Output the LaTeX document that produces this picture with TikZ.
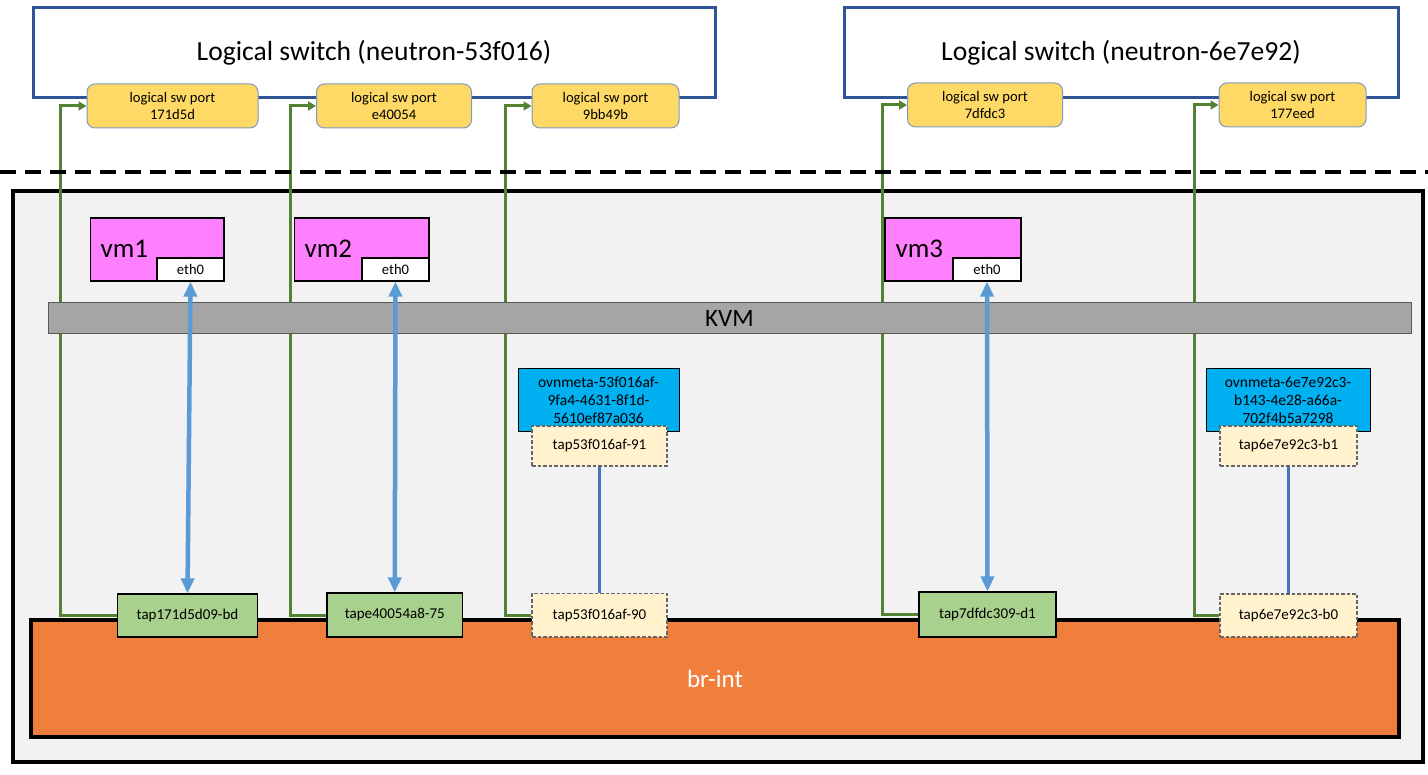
\documentclass[tikz,border=0pt]{standalone}
\usepackage{fontspec}
\setmainfont{Carlito}
\usetikzlibrary{arrows.meta}
\definecolor{lsblue}{HTML}{2F5597}
\definecolor{portfill}{HTML}{FFD966}
\definecolor{portedge}{HTML}{7F98BF}
\definecolor{vmpink}{HTML}{FF80FF}
\definecolor{kvmgray}{HTML}{A5A5A5}
\definecolor{kvmedge}{HTML}{595959}
\definecolor{metablue}{HTML}{00B0F0}
\definecolor{tapyellow}{HTML}{FFF2CC}
\definecolor{dashgray}{HTML}{666666}
\definecolor{tapgreen}{HTML}{A9D18E}
\definecolor{linkgreen}{HTML}{548235}
\definecolor{arrowblue}{HTML}{5B9BD5}
\definecolor{lineblue}{HTML}{4472C4}
\definecolor{hostfill}{HTML}{F2F2F2}
\definecolor{brorange}{HTML}{F07E3D}
\pgfdeclarelayer{bg}
\pgfdeclarelayer{links}
\pgfsetlayers{bg,links,main}
\tikzset{
  lsw/.style={draw=lsblue, line width=3pt, fill=white, inner sep=0pt, font=\fontsize{27.6}{33}\selectfont},
  port/.style={draw=portedge, line width=1pt, fill=portfill, rounded corners=8pt, inner sep=0pt, align=center, minimum height=44pt, font=\fontsize{14.6}{17.7}\selectfont},
  host/.style={draw=black, line width=3.5pt, fill=hostfill, inner sep=0pt},
  vmbox/.style={draw=black, line width=1.2pt, fill=vmpink, inner sep=0pt, minimum height=63pt},
  vmlabel/.style={inner sep=0pt, anchor=west, font=\fontsize{27}{32}\selectfont},
  ethbox/.style={draw=black, line width=1.2pt, fill=white, inner sep=0pt, minimum height=23pt, font=\fontsize{14.6}{17}\selectfont},
  kvm/.style={draw=kvmedge, line width=1pt, fill=kvmgray, inner sep=0pt, font=\fontsize{25}{30}\selectfont},
  meta/.style={draw=black, line width=1pt, fill=metablue, inner sep=0pt, align=center, minimum height=63pt, font=\fontsize{15.5}{18}\selectfont},
  dtap/.style={draw=dashgray, line width=1.3pt, dash pattern=on 3.5pt off 2pt, fill=tapyellow, inner sep=0pt, font=\fontsize{15}{18}\selectfont},
  gtap/.style={draw=black, line width=1.2pt, fill=tapgreen, inner sep=0pt, font=\fontsize{15}{18}\selectfont},
  brint/.style={draw=black, line width=4pt, fill=brorange, inner sep=0pt, text=white, font=\fontsize{25}{30}\selectfont},
  glink/.style={draw=linkgreen, line width=3pt, -{Triangle[length=8pt,width=9pt]}},
  barrow/.style={draw=arrowblue, line width=4.5pt, {Triangle[length=15pt,width=13pt]}-{Triangle[length=15pt,width=13pt]}},
  tline/.style={draw=lineblue, line width=2.6pt},
  sepline/.style={draw=black, line width=4pt, dash pattern=on 16pt off 9pt},
}
\begin{document}
\begin{tikzpicture}[x=1pt,y=-1pt]
\useasboundingbox (0,0) rectangle (1428,775);

% logical switches
\node[lsw, minimum width=682pt, minimum height=90pt] (ls1) at (374,53) {Logical switch (neutron-53f016)};
\node[lsw, minimum width=554pt, minimum height=90pt] (ls2) at (1121,53) {Logical switch (neutron-6e7e92)};

% logical switch ports
\node[port, minimum width=171pt] (p1) at (172.5,106) {logical sw port\\171d5d};
\node[port, minimum width=155pt] (p2) at (394,106) {logical sw port\\e40054};
\node[port, minimum width=147pt] (p3) at (605.5,106) {logical sw port\\9bb49b};
\node[port, minimum width=155pt] (p4) at (985,105) {logical sw port\\7dfdc3};
\node[port, minimum width=147pt] (p5) at (1292.5,105) {logical sw port\\177eed};

% separator
\coordinate (sepL) at (0,172);
\coordinate (sepR) at (1428,172);
\draw[sepline] (sepL) -- (sepR);

% host box
\begin{pgfonlayer}{bg}
\node[host, minimum width=1410pt, minimum height=571pt] (hostbox) at (718,476.5) {};
\end{pgfonlayer}

% KVM
\node[kvm, minimum width=1363pt, minimum height=31pt] (kvmbar) at (729.5,318.5) {KVM};

% VMs
\node[vmbox, minimum width=133.5pt] (vm1) at (157.25,249.5) {};
\node[vmlabel] (vm1l) at (100.5,248.5) {vm1};
\node[ethbox, minimum width=67pt] (e1) at (190.5,269.5) {eth0};
\node[vmbox, minimum width=134.5pt] (vm2) at (361.75,249.5) {};
\node[vmlabel] (vm2l) at (304.5,248.5) {vm2};
\node[ethbox, minimum width=67pt] (e2) at (395.5,269.5) {eth0};
\node[vmbox, minimum width=136pt] (vm3) at (953,249.5) {};
\node[vmlabel] (vm3l) at (895.5,248.5) {vm3};
\node[ethbox, minimum width=68pt] (e3) at (987,269.5) {eth0};

% ovnmeta namespaces
\node[meta, minimum width=161pt] (m1) at (598.5,400.5) {ovnmeta-53f016af-\\9fa4-4631-8f1d-\\5610ef87a036};
\node[meta, minimum width=164pt] (m2) at (1288,400.5) {ovnmeta-6e7e92c3-\\b143-4e28-a66a-\\702f4b5a7298};
\node[dtap, minimum width=135pt, minimum height=40pt] (t91) at (599.5,446) {tap53f016af-91};
\node[dtap, minimum width=137pt, minimum height=40pt] (tb1) at (1288.5,446) {tap6e7e92c3-b1};

% br-int
\node[brint, minimum width=1368pt, minimum height=117pt] (br) at (715,678.5) {br-int};

% bottom taps
\node[gtap, minimum width=140pt, minimum height=43pt] (ta) at (187.5,615.5) {tap171d5d09-bd};
\node[gtap, minimum width=135.5pt, minimum height=44pt] (tb) at (394.75,615) {tape40054a8-75};
\node[dtap, minimum width=135pt, minimum height=43.5pt] (t90) at (599.5,615.25) {tap53f016af-90};
\node[gtap, minimum width=137pt, minimum height=45pt] (td) at (987.5,614.5) {tap7dfdc309-d1};
\node[dtap, minimum width=137pt, minimum height=43pt] (tb0) at (1288.5,615.5) {tap6e7e92c3-b0};

% thin blue links
\draw[tline] (t91.south) -- (t90.north);
\draw[tline] (tb1.south) -- (tb0.north);

% blue double arrows
\draw[barrow] (e1.south) -- (ta.north);
\draw[barrow] (e2.south) -- (tb.north);
\draw[barrow] (e3.south) -- (td.north);

% green links (behind KVM)
\coordinate (g1) at (60,300);
\coordinate (g2) at (290,300);
\coordinate (g3) at (505.5,300);
\coordinate (g4) at (882,300);
\coordinate (g5) at (1194,300);
\begin{pgfonlayer}{links}
\draw[glink] (ta.west) -| (g1) |- (p1.west);
\draw[glink] (tb.west) -| (g2) |- (p2.west);
\draw[glink] (t90.west) -| (g3) |- (p3.west);
\draw[glink] (td.west) -| (g4) |- (p4.west);
\draw[glink] (tb0.west) -| (g5) |- (p5.west);
\end{pgfonlayer}
\end{tikzpicture}
\end{document}
